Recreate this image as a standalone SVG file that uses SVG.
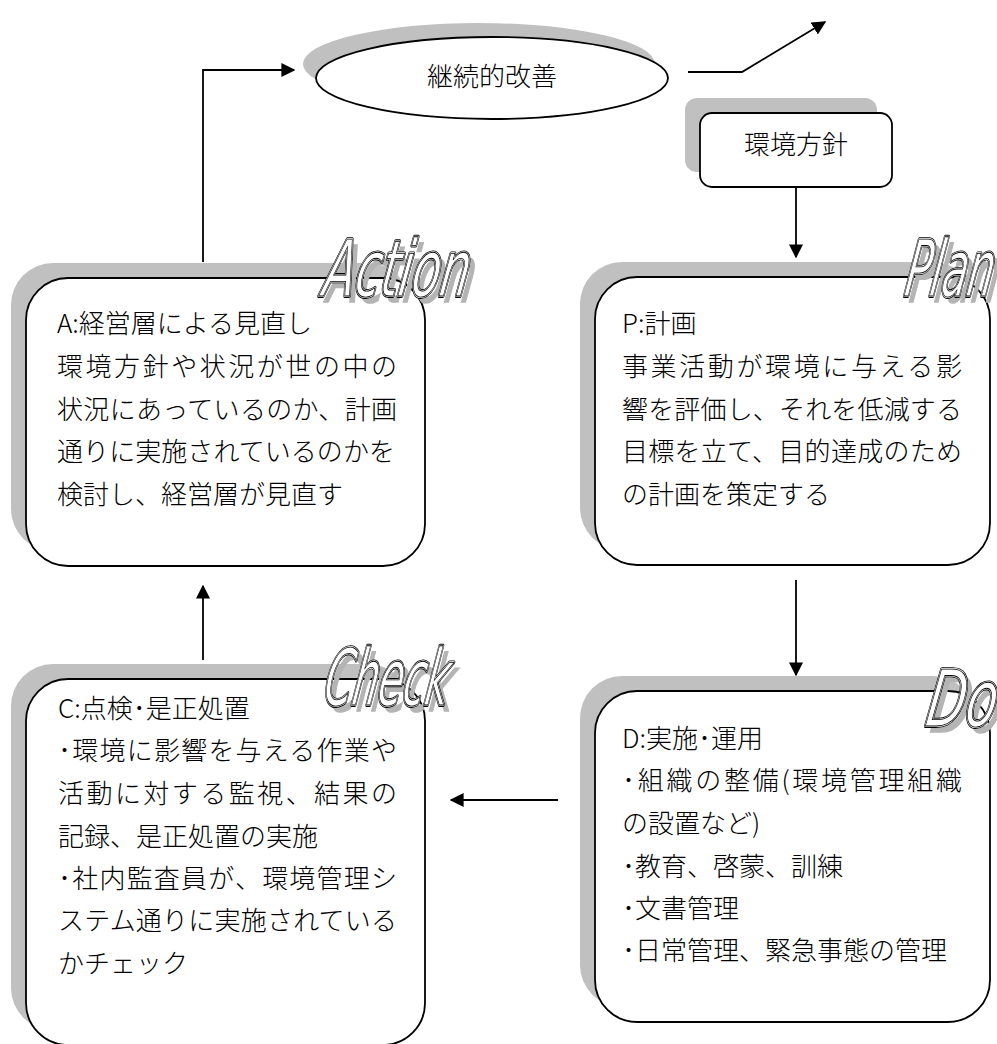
<svg xmlns="http://www.w3.org/2000/svg" width="997" height="1044" viewBox="0 0 997 1044">
<defs>
<style>
.shadow{fill:#c0c0c0;stroke:none}
.box{fill:#fff;stroke:#000;stroke-width:1.8}
.t{font-family:"Noto Sans CJK JP","Noto Sans",sans-serif;font-size:26px;font-weight:300;fill:#000}
.wa{font-family:"DejaVu Sans Condensed","Liberation Sans Narrow","Liberation Sans",sans-serif;font-style:italic;font-size:78px}
.wa-sh{fill:#b4b4b4;stroke:#b4b4b4;stroke-width:1.5}
.wa-o{fill:#000;stroke:#000;stroke-width:3.8;stroke-linejoin:round}
.wa-m{fill:#fff;stroke:#fff;stroke-width:2;stroke-linejoin:round}
.wa-i{fill:#fff;stroke:#000;stroke-width:0.9}
.conn{fill:none;stroke:#000;stroke-width:1.8}
</style>
<marker id="ah2" viewBox="0 0 10 10" refX="9" refY="5" markerWidth="14" markerHeight="14" markerUnits="userSpaceOnUse" orient="auto">
<path d="M0,0 L10,5 L0,10 Z" fill="#000"/>
</marker>
</defs>
<rect width="997" height="1044" fill="#fff"/>

<g id="kaizen">
<ellipse class="shadow" cx="479" cy="64" rx="176" ry="41"/>
<ellipse class="box" cx="492" cy="78" rx="176" ry="41"/>
<text class="t" x="492" y="86" text-anchor="middle" font-size="27">継続的改善</text>
</g>

<g id="policy">
<rect class="shadow" x="685" y="98" width="192" height="74" rx="12"/>
<rect class="box" x="700" y="113" width="192" height="74" rx="12"/>
<text class="t" x="796" y="154" text-anchor="middle">環境方針</text>
</g>

<g id="action">
<rect class="shadow" x="11" y="263" width="399" height="288" rx="42"/>
<rect class="box" x="26" y="278" width="399" height="288" rx="42"/>
<text class="t" x="57" y="333">A:経営層による見直し</text>
<text class="t" x="57" y="376" textLength="340" lengthAdjust="spacing">環境方針や状況が世の中の</text>
<text class="t" x="57" y="419" textLength="340" lengthAdjust="spacing">状況にあっているのか、計画</text>
<text class="t" x="57" y="461" textLength="338" lengthAdjust="spacing">通りに実施されているのかを</text>
<text class="t" x="57" y="504">検討し、経営層が見直す</text>
</g>

<g id="plan">
<rect class="shadow" x="580" y="262" width="395" height="288" rx="42"/>
<rect class="box" x="595" y="277" width="395" height="288" rx="42"/>
<text class="t" x="622" y="333">P:計画</text>
<text class="t" x="622" y="376" textLength="340" lengthAdjust="spacing">事業活動が環境に与える影</text>
<text class="t" x="622" y="419" textLength="340" lengthAdjust="spacing">響を評価し、それを低減する</text>
<text class="t" x="622" y="461" textLength="340" lengthAdjust="spacing">目標を立て、目的達成のため</text>
<text class="t" x="622" y="504">の計画を策定する</text>
</g>

<g id="check">
<rect class="shadow" x="11" y="664" width="399" height="366" rx="42"/>
<rect class="box" x="26" y="679" width="399" height="366" rx="42"/>
<text class="t" x="58" y="718">C:点検･是正処置</text>
<text class="t" x="58" y="760" textLength="339" lengthAdjust="spacing">･環境に影響を与える作業や</text>
<text class="t" x="58" y="803" textLength="339" lengthAdjust="spacing">活動に対する監視、結果の</text>
<text class="t" x="58" y="846">記録、是正処置の実施</text>
<text class="t" x="58" y="888" textLength="339" lengthAdjust="spacing">･社内監査員が、環境管理シ</text>
<text class="t" x="58" y="930" textLength="339" lengthAdjust="spacing">ステム通りに実施されている</text>
<text class="t" x="58" y="973">かチェック</text>
</g>

<g id="do">
<rect class="shadow" x="580" y="676" width="395" height="331" rx="42"/>
<rect class="box" x="595" y="691" width="395" height="331" rx="42"/>
<text class="t" x="622" y="748">D:実施･運用</text>
<text class="t" x="622" y="790" textLength="340" lengthAdjust="spacing">･組織の整備(環境管理組織</text>
<text class="t" x="622" y="833">の設置など)</text>
<text class="t" x="622" y="876">･教育、啓蒙、訓練</text>
<text class="t" x="622" y="918">･文書管理</text>
<text class="t" x="622" y="960">･日常管理、緊急事態の管理</text>
</g>

<g id="labels">
<g id="label-action" transform="translate(321,296) skewX(-9)">
<text class="wa wa-sh" x="6" y="6" textLength="146" lengthAdjust="spacingAndGlyphs">Action</text>
<text class="wa wa-o" x="0" y="0" textLength="146" lengthAdjust="spacingAndGlyphs">Action</text>
<text class="wa wa-m" x="0" y="0" textLength="146" lengthAdjust="spacingAndGlyphs">Action</text>
<text class="wa wa-i" x="0" y="0" textLength="146" lengthAdjust="spacingAndGlyphs">Action</text>
</g>
<g id="label-plan" transform="translate(903,296) skewX(-9)">
<text class="wa wa-sh" x="6" y="6" textLength="88" lengthAdjust="spacingAndGlyphs">Plan</text>
<text class="wa wa-o" x="0" y="0" textLength="88" lengthAdjust="spacingAndGlyphs">Plan</text>
<text class="wa wa-m" x="0" y="0" textLength="88" lengthAdjust="spacingAndGlyphs">Plan</text>
<text class="wa wa-i" x="0" y="0" textLength="88" lengthAdjust="spacingAndGlyphs">Plan</text>
</g>
<g id="label-check" transform="translate(322,705) skewX(-9)">
<text class="wa wa-sh" x="6" y="6" textLength="124" lengthAdjust="spacingAndGlyphs">Check</text>
<text class="wa wa-o" x="0" y="0" textLength="124" lengthAdjust="spacingAndGlyphs">Check</text>
<text class="wa wa-m" x="0" y="0" textLength="124" lengthAdjust="spacingAndGlyphs">Check</text>
<text class="wa wa-i" x="0" y="0" textLength="124" lengthAdjust="spacingAndGlyphs">Check</text>
</g>
<g id="label-do" transform="translate(924,726) skewX(-9)">
<text class="wa wa-sh" x="6" y="6" textLength="70" lengthAdjust="spacingAndGlyphs">Do</text>
<text class="wa wa-o" x="0" y="0" textLength="70" lengthAdjust="spacingAndGlyphs">Do</text>
<text class="wa wa-m" x="0" y="0" textLength="70" lengthAdjust="spacingAndGlyphs">Do</text>
<text class="wa wa-i" x="0" y="0" textLength="70" lengthAdjust="spacingAndGlyphs">Do</text>
</g>
</g>

<g id="connectors">
<path class="conn" d="M203,262 V70 H294" marker-end="url(#ah2)"/>
<path class="conn" d="M688,72 H742 L825,22" marker-end="url(#ah2)"/>
<path class="conn" d="M796,187 V257" marker-end="url(#ah2)"/>
<path class="conn" d="M796,580 V675" marker-end="url(#ah2)"/>
<path class="conn" d="M558,800 H451" marker-end="url(#ah2)"/>
<path class="conn" d="M203,660 V586" marker-end="url(#ah2)"/>
</g>
</svg>
